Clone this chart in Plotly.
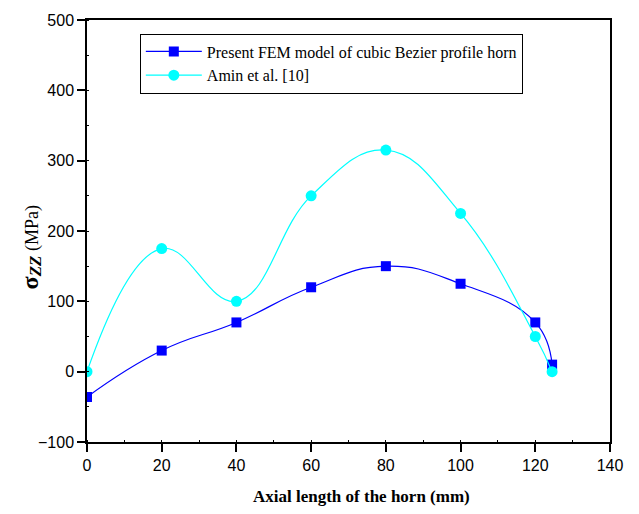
import plotly.graph_objects as go

# Axial position along the horn (mm)
x_fem = [0, 20, 40, 60, 80, 100, 120, 124.5]
x_amin = [0, 20, 40, 60, 80, 100, 120, 124.5]

# Axial stress sigma_zz (MPa)
fem_stress = [-36, 30, 70, 120, 150, 125, 70, 10]
amin_stress = [0, 175, 100, 250, 315, 225, 50, 0]

fem_name = "Present FEM model of cubic Bezier profile horn"
amin_name = "Amin et al. [10]"

x_ticks = [0, 20, 40, 60, 80, 100, 120, 140]
y_ticks = [-100, 0, 100, 200, 300, 400, 500]

serif = "Liberation Serif, Times New Roman, serif"
sans = "Liberation Sans, Arial, sans-serif"

fig = go.Figure()
fig.add_trace(go.Scatter(
    x=x_fem, y=fem_stress, name=fem_name, mode="lines+markers",
    line=dict(color="#0000FF", width=1.2, shape="spline", smoothing=1.3),
    marker=dict(symbol="square", size=10, color="#0000FF"),
))
fig.add_trace(go.Scatter(
    x=x_amin, y=amin_stress, name=amin_name, mode="lines+markers",
    line=dict(color="#00FFFF", width=1.2, shape="spline", smoothing=1.2),
    marker=dict(symbol="circle", size=11, color="#00FFFF"),
))

axis_common = dict(
    showline=True, linecolor="black", linewidth=1.5, mirror=True,
    ticks="outside", ticklen=8, tickwidth=1.5, tickcolor="black",
    showgrid=False, zeroline=False,
    tickfont=dict(family=sans, size=16, color="black"),
)

fig.update_layout(
    width=639, height=514,
    margin=dict(l=87, r=29, t=14, b=72),
    paper_bgcolor="white", plot_bgcolor="white",
    xaxis=dict(
        range=[0, 140], tickvals=x_ticks,
        minor=dict(ticks="inside", ticklen=2, tickwidth=1.2, tickcolor="black", dtick=10),
        **axis_common,
    ),
    yaxis=dict(
        range=[-100, 500], tickvals=y_ticks,
        minor=dict(ticks="inside", ticklen=2, tickwidth=1.2, tickcolor="black", dtick=50),
        **axis_common,
    ),
    legend=dict(
        x=0.101, y=0.968, xanchor="left", yanchor="top",
        bgcolor="white", bordercolor="black", borderwidth=1,
        font=dict(family=serif, size=16, color="black"),
        itemwidth=56, tracegroupgap=0,
    ),
    showlegend=True,
)

# Axis titles
fig.add_annotation(
    text="<b>Axial length of the horn (mm)</b>",
    xref="paper", yref="paper", x=0.524, y=-0.128,
    xanchor="center", yanchor="middle", showarrow=False,
    font=dict(family=serif, size=17, color="black"),
)
# text following a <sub> keeps the 70% scale, so the unit span is sized up
fig.add_annotation(
    text=("<b><span style='font-size:24px'>σ</span></b>"
          "<sub><b><i><span style='font-size:17px'>ZZ</span></i></b></sub>"
          "<span style='font-size:18px'> (MPa)</span>"),
    xref="paper", yref="paper", x=-0.108, y=0.46,
    xanchor="center", yanchor="middle", textangle=-90, showarrow=False,
    font=dict(family=serif, size=14, color="black"),
)

fig.write_html("out.html")
